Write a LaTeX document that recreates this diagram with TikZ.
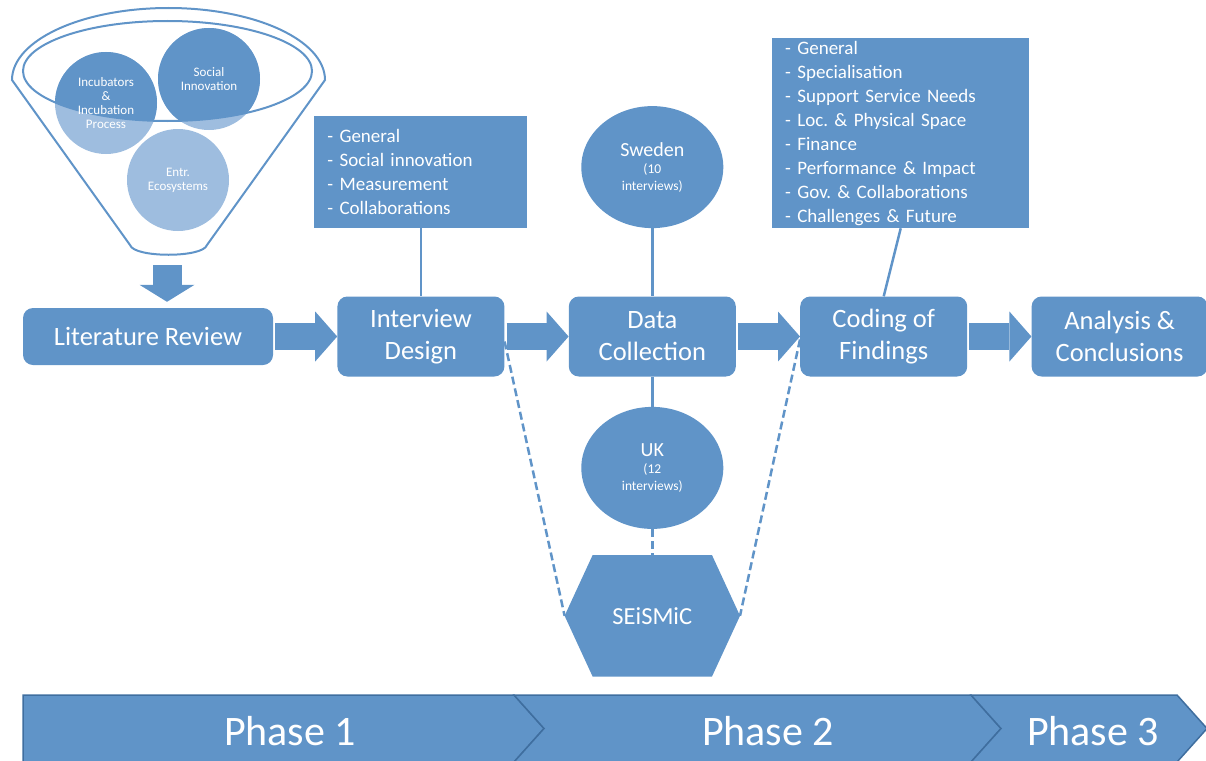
\documentclass[tikz,border=0pt]{standalone}
\usepackage{fontspec}
\setmainfont{Carlito}
\usepackage{xcolor}
\usepackage{tikz}
\usetikzlibrary{positioning,shapes.geometric,arrows.meta,backgrounds}
\definecolor{boxblue}{RGB}{96,148,200}
\definecolor{lightblue}{RGB}{158,189,223}
\definecolor{phaseedge}{RGB}{63,110,159}
\frenchspacing

\begin{document}
\begin{tikzpicture}[
x=1pt, y=-1pt,
node distance=64pt,
stage/.style={
    rounded corners=10pt,
    fill=boxblue,
    text=white,
    align=center,
    inner sep=0pt,
    minimum width=167pt,
    minimum height=80pt,
    font=\fontsize{26.5}{32}\selectfont
},
topics/.style={
    fill=boxblue,
    text=white,
    align=left,
    inner xsep=13pt,
    inner ysep=0pt,
    font=\fontsize{19}{24}\selectfont
},
country/.style={
    ellipse,
    fill=boxblue,
    text=white,
    align=center,
    inner sep=0pt,
    minimum width=142pt,
    minimum height=122pt,
    font=\fontsize{13.5}{17}\selectfont
},
ball/.style={circle, minimum size=102pt, inner sep=0pt, text=white, align=center,
    font=\fontsize{13}{14}\selectfont},
hexnode/.style={minimum width=175pt, minimum height=121pt, inner sep=0pt, text=white,
    font=\fontsize{24.5}{24}\selectfont},
blockarrow/.style={draw=boxblue, line width=27pt,
    -{Triangle[length=22pt,width=50pt,line width=0pt]}, shorten <=2pt},
downarrow/.style={draw=boxblue, line width=29pt,
    -{Triangle[length=17pt,width=55pt,line width=0pt]}, shorten >=6pt},
link/.style={draw=boxblue, line width=2.5pt},
dashlink/.style={link, dash pattern=on 8pt off 4pt},
funnel/.style={draw=boxblue, line width=2pt},
phase/.style={fill=boxblue, draw=phaseedge, line width=1.5pt},
phasetext/.style={text=white, font=\fontsize{42}{42}\selectfont}
]
\useasboundingbox (0,0) rectangle (1206,760);

\draw[funnel] (12,80) arc[start angle=180, end angle=360, x radius=156.5, y radius=72]
    -- (207,245) .. controls (203,258) and (134,258) .. (130,245) -- cycle;
\draw[funnel] (167.5,71) ellipse[x radius=144.5, y radius=50];

\node[ball] (incub) at (106,103) {Incubators\\\&\\Incubation\\Process};
\node[ball] (social) at (209,79) {Social\\Innovation};
\node[ball] (entr) at (178,180) {Entr.\\Ecosystems};

\begin{scope}[on background layer]
\fill[lightblue] (incub.center) circle[radius=51] (social.center) circle[radius=51]
    (entr.center) circle[radius=51];
\begin{scope}
\clip (167.5,71) ellipse[x radius=144.5, y radius=50];
\fill[boxblue] (incub.center) circle[radius=51] (social.center) circle[radius=51];
\end{scope}
\end{scope}

\coordinate (neck) at (167,265);

\node[stage, minimum width=250pt, minimum height=57pt] (lit) at (148,336.5) {Literature Review};
\node[stage] (intd) [right=of lit] {Interview\\Design};
\node[stage] (dc) [right=of intd] {Data\\Collection};
\node[stage] (cod) [right=of dc] {Coding of\\Findings};
\node[stage, minimum width=176pt] (ana) [right=of cod] {Analysis \&\\Conclusions};

\node[topics, text width=187pt, minimum height=112pt] (intdtopics) [above=68pt of intd] {
- General\\
- Social innovation\\
- Measurement\\
- Collaborations
};

\node[topics, text width=231pt, minimum height=190pt] (codtopics) [above=68pt of cod, xshift=17pt] {
- General\\
- Specialisation\\
- Support Service Needs\\
- Loc. \& Physical Space\\
- Finance\\
- Performance \& Impact\\
- Gov. \& Collaborations\\
- Challenges \& Future
};

\node[country] (sweden) [above=68pt of dc] {{\fontsize{20}{20}\selectfont Sweden}\\(10\\interviews)};
\node[country] (uk) [below=30pt of dc] {{\fontsize{20}{20}\selectfont UK}\\(12\\interviews)};
\node[hexnode] (hex) [below=26pt of uk] {SEiSMiC};

\begin{scope}[on background layer]
\fill[boxblue] ([xshift=28pt]hex.north west) -- ([xshift=-28pt]hex.north east) -- (hex.east)
    -- ([xshift=-28pt]hex.south east) -- ([xshift=28pt]hex.south west) -- (hex.west) -- cycle;
\end{scope}

\draw[downarrow] (neck) -- (neck |- lit.north);
\draw[blockarrow] (lit) -- (intd);
\draw[blockarrow] (intd) -- (dc);
\draw[blockarrow] (dc) -- (cod);
\draw[blockarrow] (cod) -- (ana);

\draw[link] (intdtopics) -- (intd);
\draw[link] (codtopics.south) -- (cod.north);
\draw[link] (sweden) -- (dc);
\draw[link] (dc) -- (uk);
\draw[dashlink] (uk) -- (hex);
\draw[dashlink] ([yshift=-5pt]intd.east) -- (hex.west);
\draw[dashlink] ([yshift=-3pt]cod.west) -- (hex.east);

\draw[phase] (23,695) -- (514,695) -- (544,728.5) -- (514,762) -- (23,762) -- cycle;
\draw[phase] (514,695) -- (971,695) -- (1001,728.5) -- (971,762) -- (514,762) -- (544,728.5) -- cycle;
\draw[phase] (971,695) -- (1177,695) -- (1207,728.5) -- (1177,762) -- (971,762) -- (1001,728.5) -- cycle;

\node[phasetext] (ph1) at (290,731) {Phase 1};
\node[phasetext] (ph2) at (768,731) {Phase 2};
\node[phasetext] (ph3) at (1093,731) {Phase 3};

\end{tikzpicture}
\end{document}
